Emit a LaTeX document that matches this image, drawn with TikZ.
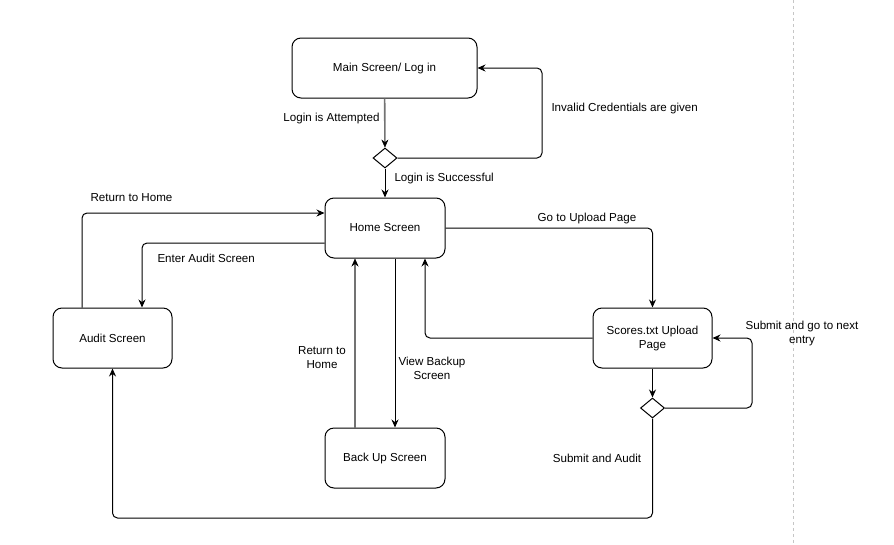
\documentclass[tikz,border=0pt]{standalone}
\usepackage{fontspec}
\setmainfont{Liberation Sans}
\usetikzlibrary{arrows.meta,shapes.geometric}

\begin{document}
\begin{tikzpicture}
[ x=1pt, y=-1pt, line width=1pt, font=\fontsize{11.6}{14}\selectfont
, screen/.style={rectangle, draw, rounded corners=9pt, minimum width=120pt, minimum height=60pt, align=center}
, choice/.style={diamond, draw, inner sep=0pt, minimum width=24pt, minimum height=20pt}
, flow/.style={-{Stealth[length=8pt,width=7pt]}, rounded corners=5pt}
, faded/.style={draw=black!55, line width=1.6pt, -{Stealth[length=8pt,width=7pt,black,line width=0.5pt]}}
, caption/.style={align=center, inner sep=1pt}
]
\useasboundingbox (0,0) rectangle (894,544);
% Screens:
\node (main) [screen, minimum width=185pt] at (384.5,68) {Main Screen/ Log in};
\node (login) [choice] at (385,158) {};
\node (home) [screen] at (385,228) {Home Screen};
\node (audit) [screen, minimum width=119pt] at (112.5,338) {Audit Screen};
\node (upload) [screen, minimum width=119pt] at (652.5,338) {Scores.txt Upload\\Page};
\node (submit) [choice] at (652.5,408) {};
\node (backup) [screen] at (385,458) {Back Up Screen};
\coordinate (invalid) at (542,158);
\coordinate (next) at (752,408);
\coordinate (bottom) at (652.5,518);
% Divider:
\draw [gray!45, line width=0.8pt, dashed] (793,0) -- (793,544);
% Connectors:
\draw [flow, faded] (main) -- (login);
\draw [flow] (login.east) -- (invalid) |- (main.east);
\draw [flow] (login) -- (home);
\draw [flow] (audit.north -| 82,0) |- (home.west |- 0,213);
\draw [flow] (home.west |- 0,243) -| (audit.north -| 142,0);
\draw [flow] (home.east) -| (upload.north);
\draw [flow] (upload.west) -| (home.south -| 425,0);
\draw [flow, faded] (backup.north -| 355,0) -- (home.south -| 355,0);
\draw [flow] (home.south -| 395,0) -- (backup.north -| 395,0);
\draw [flow] (upload) -- (submit);
\draw [flow] (submit.east) -- (next) |- (upload.east);
\draw [flow] (submit.south) -- (bottom) -| (audit.south);
% Labels:
\node (attempted) [caption, anchor=east] at (381,118) {Login is Attempted};
\node (invalidtext) [caption, anchor=west] at (550,108) {Invalid Credentials are given};
\node (success) [caption, anchor=west] at (393,178) {Login is Successful};
\node (returntext) [caption, anchor=west] at (89,198) {Return to Home};
\node (entertext) [caption, anchor=west] at (156,258) {Enter Audit Screen};
\node (uploadtext) [caption] at (587,218) {Go to Upload Page};
\node (backreturn) [caption] at (322,358) {Return to\\Home};
\node (viewtext) [caption] at (432,368) {View Backup\\Screen};
\node (nexttext) [caption] at (802,333) {Submit and go to next\\entry};
\node (audittext) [caption] at (597,458) {Submit and Audit};
\end{tikzpicture}
\end{document}
